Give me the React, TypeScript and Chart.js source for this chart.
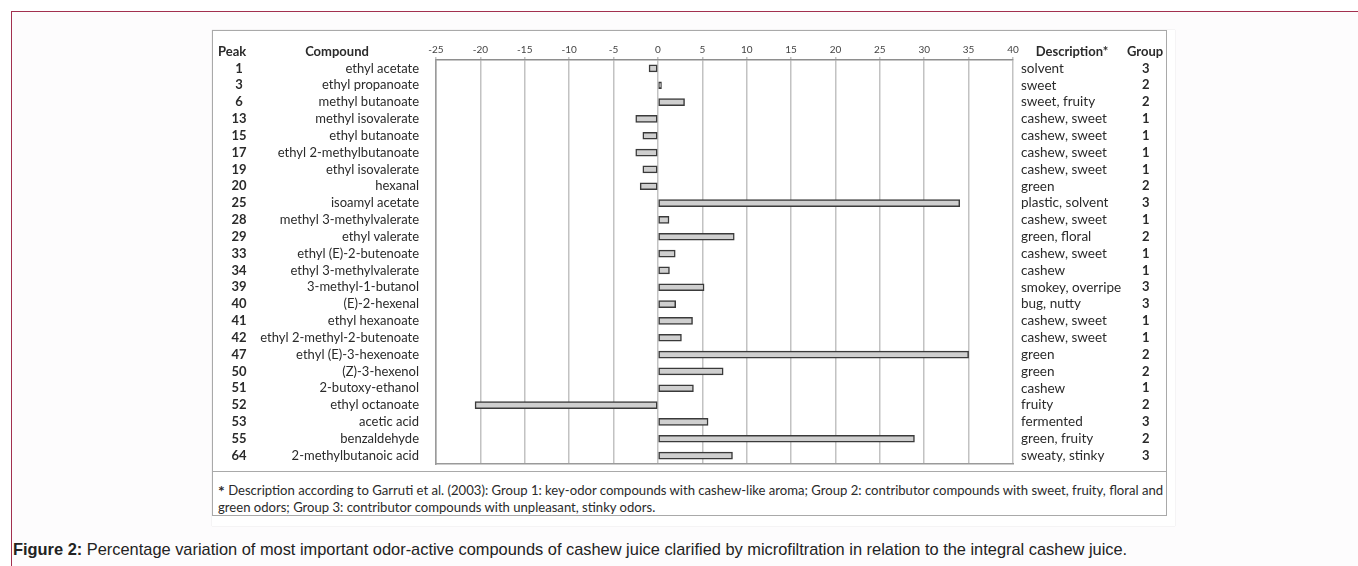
import React, { useEffect, useRef } from "react";
import { Chart, registerables } from "chart.js";

Chart.register(...registerables);

const peaks = ["1", "3", "6", "13", "15", "17", "19", "20", "25", "28", "29", "33", "34", "39", "40", "41", "42", "47", "50", "51", "52", "53", "55", "64"];

const compounds = [
  "ethyl acetate",
  "ethyl propanoate",
  "methyl butanoate",
  "methyl isovalerate",
  "ethyl butanoate",
  "ethyl 2-methylbutanoate",
  "ethyl isovalerate",
  "hexanal",
  "isoamyl acetate",
  "methyl 3-methylvalerate",
  "ethyl valerate",
  "ethyl (E)-2-butenoate",
  "ethyl 3-methylvalerate",
  "3-methyl-1-butanol",
  "(E)-2-hexenal",
  "ethyl hexanoate",
  "ethyl 2-methyl-2-butenoate",
  "ethyl (E)-3-hexenoate",
  "(Z)-3-hexenol",
  "2-butoxy-ethanol",
  "ethyl octanoate",
  "acetic acid",
  "benzaldehyde",
  "2-methylbutanoic acid",
];

const variation = [-1.0, 0.4, 3.0, -2.5, -1.7, -2.5, -1.7, -2.0, 34.0, 1.25, 8.6, 1.95, 1.3, 5.2, 2.0, 3.9, 2.65, 35.0, 7.35, 4.0, -20.6, 5.65, 28.9, 8.4];

const descriptions = [
  "solvent",
  "sweet",
  "sweet, fruity",
  "cashew, sweet",
  "cashew, sweet",
  "cashew, sweet",
  "cashew, sweet",
  "green",
  "plastic, solvent",
  "cashew, sweet",
  "green, floral",
  "cashew, sweet",
  "cashew",
  "smokey, overripe",
  "bug, nutty",
  "cashew, sweet",
  "cashew, sweet",
  "green",
  "green",
  "cashew",
  "fruity",
  "fermented",
  "green, fruity",
  "sweaty, stinky",
];

const groups = ["3", "2", "2", "1", "1", "1", "1", "2", "3", "1", "2", "1", "1", "3", "3", "1", "1", "2", "2", "1", "2", "3", "2", "3"];

const xMin = -25;
const xMax = 40;
const xStep = 5;

const FONT = "Lato, 'Open Sans', sans-serif";
const TEXT = "#2a2a2a";

const fixPad = (s: any) => {
  s.paddingTop = 0;
  s.paddingBottom = 0;
  s.paddingLeft = 0;
  s.paddingRight = 0;
};

export default function App() {
  const ref = useRef<HTMLCanvasElement>(null);

  useEffect(() => {
    if (!ref.current) return;
    const noGrid = { display: false, drawTicks: false };
    const chart = new Chart(ref.current, {
      type: "bar",
      data: {
        labels: compounds,
        datasets: [
          {
            data: variation,
            backgroundColor: "#cfcfcf",
            borderColor: "#3a3a3a",
            borderWidth: 1.5,
            borderSkipped: false,
            barThickness: 7,
            xAxisID: "x",
            yAxisID: "y",
          },
        ],
      },
      options: {
        indexAxis: "y",
        responsive: false,
        animation: false,
        devicePixelRatio: 1,
        layout: { padding: { top: 0, bottom: 8, left: 0, right: 0 } },
        plugins: { legend: { display: false }, tooltip: { enabled: false } },
        scales: {
          x: {
            type: "linear",
            position: "top",
            min: xMin,
            max: xMax,
            ticks: { stepSize: xStep, font: { family: FONT, size: 10 }, color: "#444", padding: 1, maxRotation: 0 },
            grid: { color: "#c2c2c2", lineWidth: 1.5, tickLength: 3, drawTicks: true, drawOnChartArea: true, display: true },
            border: { display: true, color: "#8e8e8e", width: 1.5 },
            afterFit: (s: any) => {
              s.height = 30;
              fixPad(s);
            },
          },
          xb: {
            type: "linear",
            position: "bottom",
            min: xMin,
            max: xMax,
            ticks: { display: false },
            grid: noGrid,
            border: { display: true, color: "#9a9a9a", width: 1.5 },
            afterFit: (s: any) => {
              s.height = 0;
              fixPad(s);
            },
          },
          y: {
            type: "category",
            position: "left",
            weight: 0,
            offset: true,
            ticks: { autoSkip: false, font: { family: FONT, size: 13 }, color: TEXT, padding: 17 },
            grid: noGrid,
            border: { display: true, color: "#9a9a9a", width: 1.5 },
            afterFit: (s: any) => {
              s.width = 181;
              fixPad(s);
            },
          },
          yPeak: {
            type: "category",
            labels: peaks,
            position: "left",
            weight: 1,
            offset: true,
            ticks: { autoSkip: false, crossAlign: "center", font: { family: FONT, size: 13, weight: "bold" }, color: TEXT, padding: 8.5 },
            grid: noGrid,
            border: { display: false },
            afterFit: (s: any) => {
              s.width = 43;
              fixPad(s);
            },
          },
          yDesc: {
            type: "category",
            labels: descriptions,
            position: "right",
            weight: 0,
            offset: true,
            ticks: { autoSkip: false, crossAlign: "near", font: { family: FONT, size: 13.5 }, color: TEXT, padding: 8 },
            grid: noGrid,
            border: { display: false },
            afterFit: (s: any) => {
              s.width = 112;
              fixPad(s);
            },
          },
          yGroup: {
            type: "category",
            labels: groups,
            position: "right",
            weight: 1,
            offset: true,
            ticks: { autoSkip: false, crossAlign: "center", font: { family: FONT, size: 13, weight: "bold" }, color: TEXT, padding: 17 },
            grid: noGrid,
            border: { display: false },
            afterFit: (s: any) => {
              s.width = 42;
              fixPad(s);
            },
          },
        },
      } as any,
    });
    return () => chart.destroy();
  }, []);

  const header = (text: string, left: number, width: number, align: "left" | "center") => (
    <div
      style={{
        position: "absolute",
        left,
        top: 43,
        width,
        height: 16,
        lineHeight: "16px",
        textAlign: align,
        fontFamily: FONT,
        fontWeight: 700,
        fontSize: 13,
        color: TEXT,
        whiteSpace: "nowrap",
      }}
    >
      {text}
    </div>
  );

  return (
    <div
      style={{
        position: "absolute",
        left: 0,
        top: 0,
        width: 1358,
        height: 566,
        overflow: "hidden",
        background: "#ffffff",
      }}
    >
      <div
        style={{
          position: "absolute",
          left: 11,
          top: 11,
          width: 1400,
          height: 600,
          border: "1px solid #a2304f",
          background: "#fdfcfd",
        }}
      />
      <div
        style={{
          position: "absolute",
          left: 212,
          top: 30,
          width: 963,
          height: 496,
          background: "#ffffff",
          boxShadow: "0 0 1px #cfcfcf",
        }}
      />
      <div
        style={{
          position: "absolute",
          left: 212,
          top: 30,
          width: 955,
          height: 486,
          border: "1px solid #a9a9a9",
          boxSizing: "border-box",
        }}
      />
      <div style={{ position: "absolute", left: 212, top: 471, width: 955, height: 1, background: "#a9a9a9" }} />
      <canvas
        ref={ref}
        width={955}
        height={442}
        style={{ position: "absolute", left: 212, top: 30, width: 955, height: 442 }}
      />
      {header("Peak", 218, 40, "left")}
      {header("Compound", 287, 100, "center")}
      {header("Description*", 1022, 100, "center")}
      {header("Group", 1125, 40, "center")}
      <div
        style={{
          position: "absolute",
          left: 218,
          top: 482,
          fontFamily: FONT,
          fontSize: 13.1,
          lineHeight: "16px",
          color: TEXT,
          whiteSpace: "nowrap",
        }}
      >
        <span style={{ fontSize: 16, fontWeight: 700, verticalAlign: "-2px" }}>*</span> Description according to Garruti et al. (2003): Group 1: key-odor compounds with cashew-like aroma; Group 2: contributor compounds with sweet, fruity, floral and
        <br />
        green odors; Group 3: contributor compounds with unpleasant, stinky odors.
      </div>
      <div
        style={{
          position: "absolute",
          left: 13,
          top: 540,
          fontFamily: "'Liberation Sans', Arial, sans-serif",
          fontSize: 16.4,
          lineHeight: "18px",
          color: "#222",
          whiteSpace: "nowrap",
        }}
      >
        <b>Figure 2:</b> Percentage variation of most important odor-active compounds of cashew juice clarified by microfiltration in relation to the integral cashew juice.
      </div>
    </div>
  );
}
